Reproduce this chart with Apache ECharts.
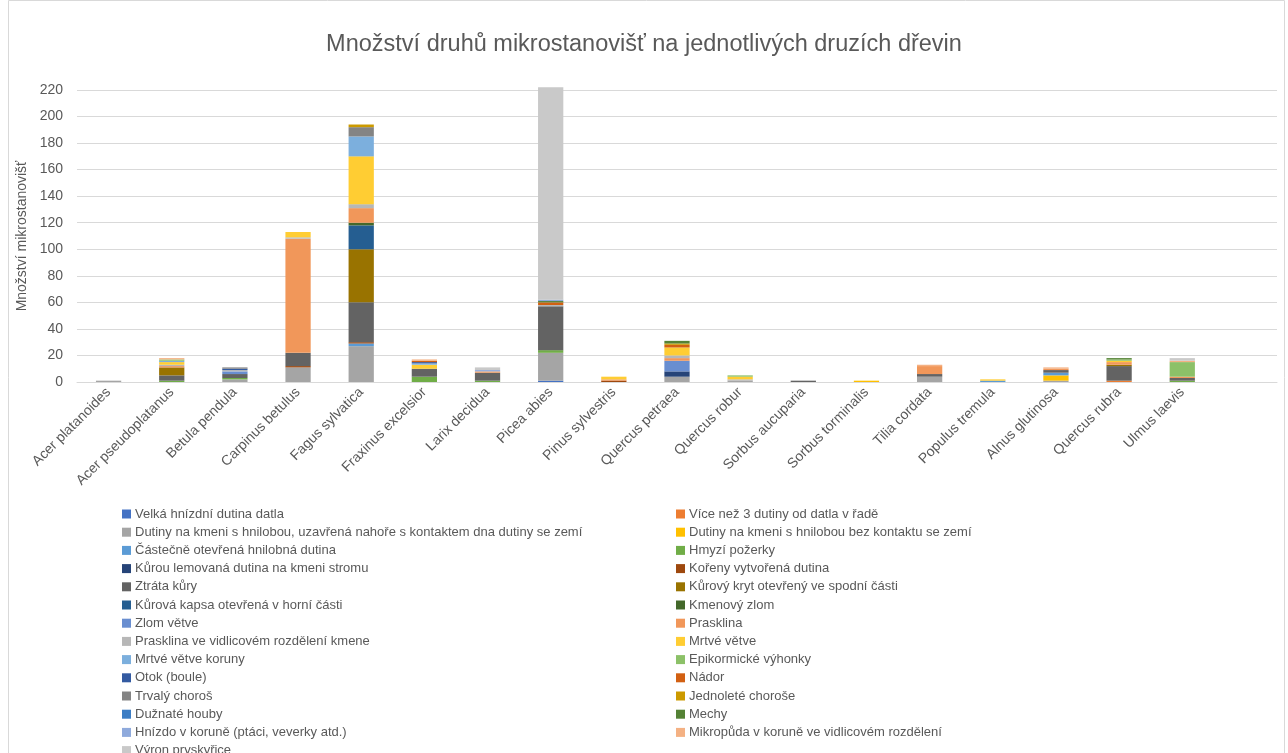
<!DOCTYPE html>
<html>
<head>
<meta charset="utf-8">
<script src="https://cdn.jsdelivr.net/npm/echarts@6/dist/echarts.min.js"></script>
<style>
html, body { margin: 0; padding: 0; background: #fff; }
#chart { width: 1288px; height: 753px; }
</style>
</head>
<body>
<div id="chart"></div>
<script>
// druhy dřevin (poslední prázdná kategorie je i v originálu)
const categories = ['Acer platanoides', 'Acer pseudoplatanus', 'Betula pendula', 'Carpinus betulus',
  'Fagus sylvatica', 'Fraxinus excelsior', 'Larix decidua', 'Picea abies', 'Pinus sylvestris',
  'Quercus petraea', 'Quercus robur', 'Sorbus aucuparia', 'Sorbus torminalis', 'Tilia cordata',
  'Populus tremula', 'Alnus glutinosa', 'Quercus rubra', 'Ulmus laevis', ''];

const seriesNames = [
  'Velká hnízdní dutina datla',
  'Více než 3 dutiny od datla v řadě',
  'Dutiny na kmeni s hnilobou, uzavřená nahoře s kontaktem dna dutiny se zemí',
  'Dutiny na kmeni s hnilobou bez kontaktu se zemí',
  'Částečně otevřená hnilobná dutina',
  'Hmyzí požerky',
  'Kůrou lemovaná dutina na kmeni stromu',
  'Kořeny vytvořená dutina',
  'Ztráta kůry',
  'Kůrový kryt otevřený ve spodní části',
  'Kůrová kapsa otevřená v horní části',
  'Kmenový zlom',
  'Zlom větve',
  'Prasklina',
  'Prasklina ve vidlicovém rozdělení kmene',
  'Mrtvé větve',
  'Mrtvé větve koruny',
  'Epikormické výhonky',
  'Otok (boule)',
  'Nádor',
  'Trvalý choroš',
  'Jednoleté choroše',
  'Dužnaté houby',
  'Mechy',
  'Hnízdo v koruně (ptáci, veverky atd.)',
  'Mikropůda v koruně ve vidlicovém rozdělení',
  'Výron pryskyřice'
];

// hodnoty po řadách, pořadí podle categories
const values = [
  [0,0,0,0,0,0,0,1,0,0,0,0,0,0,0,0,0,0],
  [0,0,0,0,0,0,0,0,0,0,0,0,0,0,0,0,1,0],
  [1,0,2,11,27,0,0,21,0,4,1,0,0,4,0,1,0,0],
  [0,0,0,0,0,0,0,0,0,0,0,0,1,0,0,4,0,0],
  [0,0,0,0,2,0,0,0,0,0,0,0,0,0,1,2,0,0],
  [0,1,1,0,0,4,1,2,0,0,0,0,0,0,0,0,0,1],
  [0,0,0,0,0,0,0,0,0,4,0,0,0,0,0,0,0,0],
  [0,0,0,1,1,0,0,0,1,0,0,0,0,0,0,0,0,0],
  [0,4,3,10,30,6,6,33,0,0,0,1,0,2,0,2,11,2],
  [0,6,0,0,40,0,0,0,0,0,0,0,0,0,0,0,1,0],
  [0,0,0,0,18,0,0,0,0,0,0,0,0,0,0,0,0,0],
  [0,0,0,0,2,0,0,0,0,0,0,0,0,0,0,0,0,0],
  [0,0,2,0,0,0,0,0,0,8,0,0,0,0,0,0,0,0],
  [0,1,0,86,11,0,1,0,1,2,0,0,0,6,0,1,2,1],
  [0,1,1,1,3,0,0,1,0,2,1,0,0,0,0,0,0,0],
  [0,2,0,4,36,3,0,0,2,6,2,0,0,0,1,0,1,0],
  [0,1,0,0,15,1,0,0,0,0,0,0,0,0,0,0,0,0],
  [0,1,0,0,0,0,0,0,0,0,1,0,0,0,0,0,1,11],
  [0,0,1,0,0,1,0,0,0,0,0,0,0,0,0,0,0,0],
  [0,0,0,0,0,1,0,2,0,2,0,0,0,0,0,0,0,0],
  [0,0,1,0,7,0,0,0,0,0,0,0,0,0,0,0,0,0],
  [0,0,0,0,2,0,0,0,0,1,0,0,0,0,0,0,0,0],
  [0,0,0,0,0,0,0,0,0,0,0,0,0,0,0,0,0,0],
  [0,0,0,0,0,0,0,1,0,2,0,0,0,0,0,0,1,0],
  [0,0,0,0,0,0,1,1,0,0,0,0,0,0,0,0,0,0],
  [0,1,0,0,0,1,0,0,0,0,0,0,0,1,0,1,0,1],
  [0,0,0,0,0,0,2,160,0,0,0,0,0,0,0,0,0,2]
];

const yTicks = { min: 0, max: 220, interval: 20 };

const palette = ['#4472C4','#ED7D31','#A5A5A5','#FFC000','#5B9BD5','#70AD47',
  '#264478','#9E480E','#636363','#997300','#255E91','#43682B',
  '#698ED0','#F1975A','#B7B7B7','#FFCD33','#7CAFDD','#8CC168',
  '#335AA1','#D26012','#848484','#CC9A00','#3C7DC4','#548235',
  '#8FAADC','#F4B183','#C9C9C9'];

const font = '"Liberation Sans", Arial, sans-serif';
const txt = '#595959';

const chart = echarts.init(document.getElementById('chart'));

const legendBase = {
  orient: 'vertical',
  top: 502,
  height: 270,
  icon: 'rect',
  itemWidth: 9,
  itemHeight: 9,
  itemGap: 4.2,
  selectedMode: false,
  textStyle: { color: txt, fontSize: 13, fontFamily: font, lineHeight: 14, padding: [0, 0, 0, -1] }
};

chart.setOption({
  animation: false,
  color: palette,
  title: {
    text: 'Množství druhů mikrostanovišť na jednotlivých druzích dřevin',
    left: 'center',
    top: 28,
    textStyle: { color: txt, fontSize: 23.5, fontWeight: 'normal', fontFamily: font }
  },
  graphic: [{
    type: 'rect',
    shape: { x: 8.5, y: 0.5, width: 1276, height: 760 },
    style: { fill: 'none', stroke: '#D9D9D9', lineWidth: 1 },
    silent: true
  }],
  legend: [
    Object.assign({}, legendBase, { left: 117, data: seriesNames.filter((n, i) => i % 2 === 0) }),
    Object.assign({}, legendBase, { left: 671, data: seriesNames.filter((n, i) => i % 2 === 1) })
  ],
  grid: { left: 77, right: 11, top: 90, bottom: 371 },
  xAxis: {
    type: 'category',
    data: categories,
    axisLine: { lineStyle: { color: '#D9D9D9' } },
    axisTick: { show: false },
    axisLabel: { rotate: 45, color: txt, fontSize: 14, fontFamily: font, margin: 8, interval: 0 }
  },
  yAxis: {
    type: 'value',
    min: yTicks.min,
    max: yTicks.max,
    interval: yTicks.interval,
    name: 'Množství mikrostanovišť',
    nameLocation: 'middle',
    nameGap: 41,
    nameTextStyle: { color: txt, fontSize: 14, fontFamily: font },
    axisLine: { show: false },
    axisTick: { show: false },
    axisLabel: { color: txt, fontSize: 14, fontFamily: font, margin: 14 },
    splitLine: { lineStyle: { color: '#D9D9D9' } }
  },
  series: seriesNames.map((name, i) => ({
    name: name,
    type: 'bar',
    stack: 'total',
    barWidth: '40%',
    clip: false,
    data: values[i]
  }))
});
</script>
</body>
</html>
